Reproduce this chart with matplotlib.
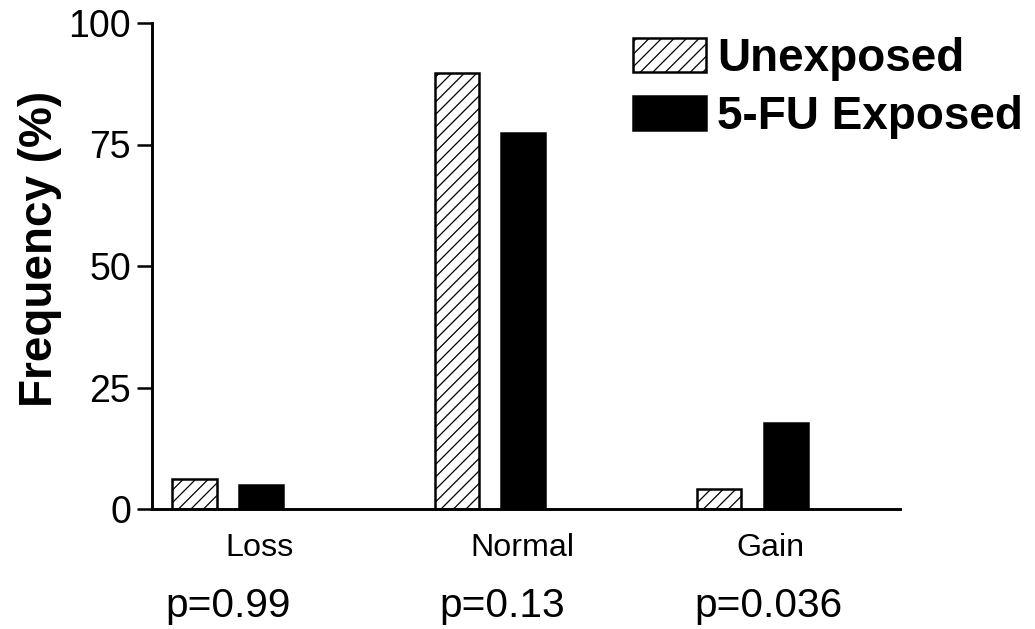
import matplotlib
matplotlib.use('Agg')
import matplotlib.pyplot as plt
import numpy as np

# Data
categories = ["Loss", "Normal", "Gain"]
unexposed = [6.2, 89.7, 4.1]
exposed = [4.9, 77.4, 17.7]
p_values = ["p=0.99", "p=0.13", "p=0.036"]
y_ticks = [0, 25, 50, 75, 100]

plt.rcParams['font.family'] = ['Liberation Sans', 'DejaVu Sans']
plt.rcParams['hatch.linewidth'] = 0.6

fig = plt.figure(figsize=(6.9, 629 / 150), dpi=150)
ax = fig.add_axes([152 / 1035, 1 - 509 / 629, (900 - 152) / 1035, (509 - 23) / 629])

x = np.arange(len(categories))
w = 0.168
off = 0.126
ax.bar(x - off, unexposed, w, color='white', edgecolor='black', linewidth=1.2,
       hatch='////', label='Unexposed')
ax.bar(x + off, exposed, w, color='black', edgecolor='black', linewidth=1.2,
       label='5-FU Exposed')

ax.set_xlim(-0.288, 2.562)
ax.set_ylim(0, 100)
ax.set_yticks(y_ticks)
ax.tick_params(axis='y', labelsize=18, length=7, width=1.2, pad=3)
ax.set_xticks([])
for s in ['top', 'right']:
    ax.spines[s].set_visible(False)
for s in ['left', 'bottom']:
    ax.spines[s].set_linewidth(1.4)

# category names and p-values under the axis
trans = ax.get_xaxis_transform()
label_x = x + np.array([0.12, 0.125, 0.07])
p_x = x + np.array([0.0, 0.045, 0.06])
for lx, name in zip(label_x, categories):
    ax.text(lx, -0.0967, name, transform=trans, ha='center', va='baseline', fontsize=15.5)
for px, p in zip(p_x, p_values):
    ax.text(px, -0.222, p, transform=trans, ha='center', va='baseline', fontsize=19.5)

fig.text(40 / 1035, 1 - 249 / 629, "Frequency (%)", rotation=90, ha='center', va='center',
         fontsize=22, fontweight='bold')

leg = ax.legend(loc='upper left', bbox_to_anchor=(633 / 1035, 1 - 37 / 629),
                bbox_transform=fig.transFigure, frameon=False, borderpad=0,
                borderaxespad=0, handlelength=1.6, handleheight=0.75,
                handletextpad=0.24, labelspacing=0.3,
                prop={'size': 22, 'weight': 'bold'})

fig.savefig("out.png", dpi=150)
